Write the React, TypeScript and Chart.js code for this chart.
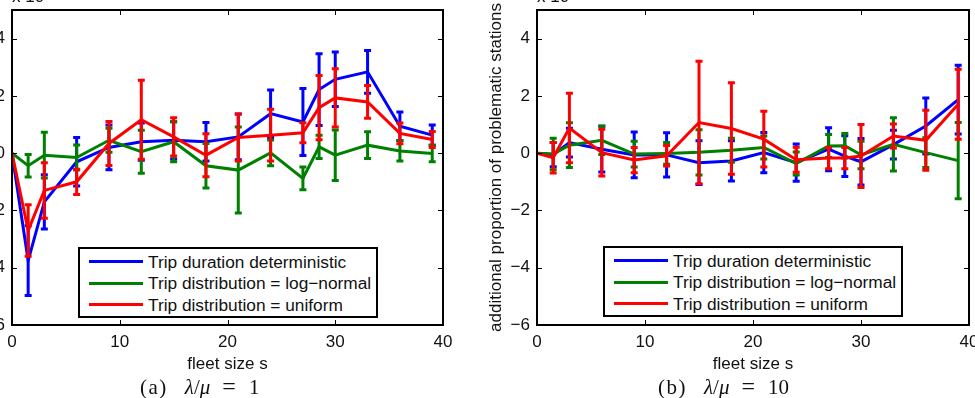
import React, { useEffect, useRef } from "react";
import { Chart, registerables } from "chart.js";

Chart.register(...registerables);

const SANS = "'Liberation Sans', Arial, Helvetica, sans-serif";
const SERIF = "'Liberation Serif', 'Times New Roman', serif";
const INK = "#111";

// Fleet sizes at which the simulations were run
const fleetSize = [0, 1.5, 3, 6, 9, 12, 15, 18, 21, 24, 27, 28.5, 30, 33, 36, 39];
const xTicks = [0, 10, 20, 30, 40];
const yTicks = [-6, -4, -2, 0, 2, 4];

// (a) lambda/mu = 1 — additional proportion (x 10^-3), mean and half-width of error bar
const detMeanA = [0, -3.75, -1.7, -0.3, 0.2, 0.4, 0.45, 0.4, 0.57, 1.38, 1.09, 2.22, 2.58, 2.84, 0.94, 0.63];
const detErrA = [0, 1.22, 0.95, 0.85, 0.78, 0.65, 0.65, 0.67, 0.8, 0.83, 1.17, 1.25, 0.95, 0.75, 0.5, 0.35];
const logMeanA = [0, -0.44, -0.07, -0.15, 0.45, 0.05, 0.4, -0.44, -0.59, 0.01, -0.88, 0.22, -0.07, 0.28, 0.08, -0.01];
const logErrA = [0, 0.39, 0.8, 0.44, 0.42, 0.75, 0.7, 0.78, 1.5, 0.45, 0.4, 0.41, 0.88, 0.47, 0.35, 0.29];
const uniMeanA = [0, -2.7, -1.3, -1.0, 0.34, 1.17, 0.57, -0.07, 0.55, 0.63, 0.71, 1.59, 1.93, 1.79, 0.69, 0.48];
const uniErrA = [0, 0.9, 0.97, 0.44, 0.77, 1.38, 0.67, 0.75, 0.82, 0.9, 0.35, 1.12, 1.02, 0.57, 0.36, 0.28];

// (b) lambda/mu = 10
const detMeanB = [0, -0.05, 0.37, 0.14, -0.06, -0.06, -0.33, -0.27, 0.02, -0.33, 0.14, -0.1, -0.3, 0.3, 0.95, 1.87];
const detErrB = [0, 0.42, 0.5, 0.8, 0.8, 0.77, 0.76, 0.7, 0.7, 0.65, 0.75, 0.71, 0.81, 0.5, 0.98, 1.2];
const logMeanB = [0, -0.03, 0.28, 0.45, -0.03, -0.01, 0.03, 0.1, 0.2, -0.36, 0.25, 0.26, -0.06, 0.31, 0.02, -0.26];
const logErrB = [0, 0.55, 0.78, 0.5, 0.45, 0.38, 0.79, 0.42, 0.4, 0.4, 0.4, 0.43, 0.48, 0.93, 0.52, 1.33];
const uniMeanB = [0, -0.16, 0.88, 0.02, -0.24, -0.09, 1.07, 0.86, 0.49, -0.23, -0.17, -0.17, -0.1, 0.6, 0.45, 1.71];
const uniErrB = [0, 0.53, 1.21, 0.82, 0.44, 0.36, 2.14, 1.6, 0.97, 0.44, 0.37, 0.37, 1.1, 0.42, 1.05, 1.22];

const seriesNames = [
  "Trip duration deterministic",
  "Trip distribution = log\u2212normal",
  "Trip distribution = uniform",
];
const seriesColors = ["#0000ff", "#008000", "#ff0000"];

const xTitle = "fleet size s";
const yTitle = "additional proportion of problematic stations";

const fmtTick = (v: number) => (v < 0 ? "\u2212" + Math.abs(v) : String(v));

// Vertical error bars with caps, drawn right after each dataset's line
const errorBarPlugin = {
  id: "errorBars",
  afterDatasetDraw(chart: any, args: any) {
    const ds = chart.data.datasets[args.index];
    const errs: number[] = ds.errors;
    if (!errs) return;
    const xs = chart.scales.x;
    const ys = chart.scales.y;
    const ctx = chart.ctx;
    ctx.save();
    ctx.strokeStyle = ds.borderColor;
    ctx.lineWidth = 3;
    ctx.lineCap = "butt";
    const cap = 3.5;
    ds.data.forEach((p: any, i: number) => {
      const e = errs[i];
      if (!e) return;
      const px = xs.getPixelForValue(p.x);
      const top = ys.getPixelForValue(p.y + e);
      const bot = ys.getPixelForValue(p.y - e);
      ctx.beginPath();
      ctx.moveTo(px, top);
      ctx.lineTo(px, bot);
      ctx.moveTo(px - cap, top);
      ctx.lineTo(px + cap, top);
      ctx.moveTo(px - cap, bot);
      ctx.lineTo(px + cap, bot);
      ctx.stroke();
    });
    ctx.restore();
  },
};

// Boxed axes with inward tick marks on all four sides
const boxPlugin = {
  id: "axesBox",
  afterDraw(chart: any) {
    const { ctx, chartArea: a } = chart;
    const xs = chart.scales.x;
    const ys = chart.scales.y;
    const len = 5;
    ctx.save();
    ctx.strokeStyle = "#000";
    ctx.lineWidth = 1;
    ctx.beginPath();
    xTicks.forEach((v) => {
      const px = Math.round(xs.getPixelForValue(v)) + 0.5;
      ctx.moveTo(px, a.bottom);
      ctx.lineTo(px, a.bottom - len);
      ctx.moveTo(px, a.top);
      ctx.lineTo(px, a.top + len);
    });
    yTicks.forEach((v) => {
      const py = Math.round(ys.getPixelForValue(v)) + 0.5;
      ctx.moveTo(a.left, py);
      ctx.lineTo(a.left + len, py);
      ctx.moveTo(a.right, py);
      ctx.lineTo(a.right - len, py);
    });
    ctx.stroke();
    ctx.lineWidth = 2;
    ctx.strokeRect(a.left, a.top, a.right - a.left, a.bottom - a.top);
    ctx.restore();
  },
};

type PanelProps = {
  canvasLeft: number;
  canvasWidth: number;
  areaLeft: number;
  padRight: number;
  means: number[][];
  errs: number[][];
};

function Panel({ canvasLeft, canvasWidth, areaLeft, padRight, means, errs }: PanelProps) {
  const ref = useRef<HTMLCanvasElement>(null);
  useEffect(() => {
    const chart = new Chart(ref.current as HTMLCanvasElement, {
      type: "line",
      data: {
        datasets: means.map((m, k) => ({
          label: seriesNames[k],
          data: fleetSize.map((x, i) => ({ x, y: m[i] })),
          errors: errs[k],
          borderColor: seriesColors[k],
          backgroundColor: seriesColors[k],
          borderWidth: 3,
          pointRadius: 0,
          tension: 0,
          order: 2 - k,
        })) as any,
      },
      options: {
        responsive: false,
        animation: false,
        events: [],
        layout: { padding: { left: 0, top: 10, right: padRight, bottom: 0 } },
        plugins: { legend: { display: false }, tooltip: { enabled: false } },
        scales: {
          x: {
            type: "linear",
            min: 0,
            max: 40,
            afterBuildTicks: (s: any) => {
              s.ticks = xTicks.map((v) => ({ value: v }));
            },
            afterFit: (s: any) => {
              s.height = 73;
              s.paddingLeft = 0;
              s.paddingRight = 0;
            },
            grid: { display: false, drawTicks: false },
            border: { display: false },
            ticks: {
              padding: 7,
              color: INK,
              font: { family: SANS, size: 17 },
              maxRotation: 0,
              autoSkip: false,
              callback: (v: any) => fmtTick(Number(v)),
            },
            title: {
              display: true,
              text: xTitle,
              color: INK,
              font: { family: SANS, size: 17 },
              padding: { top: 0, bottom: 23 },
            },
          },
          y: {
            type: "linear",
            min: -6,
            max: 5,
            afterBuildTicks: (s: any) => {
              s.ticks = yTicks.map((v) => ({ value: v }));
            },
            afterFit: (s: any) => {
              s.width = areaLeft;
              s.paddingTop = 0;
              s.paddingBottom = 0;
            },
            grid: { display: false, drawTicks: false },
            border: { display: false },
            ticks: {
              padding: 7,
              color: INK,
              font: { family: SANS, size: 17 },
              autoSkip: false,
              callback: (v: any) => fmtTick(Number(v)),
            },
            title: {
              display: true,
              text: yTitle,
              color: INK,
              font: { family: SANS, size: 17 },
              padding: { top: 16, bottom: 0 },
            },
          },
        },
      },
      plugins: [errorBarPlugin, boxPlugin],
    });
    return () => chart.destroy();
  }, []);
  return (
    <canvas
      ref={ref}
      width={canvasWidth}
      height={398}
      style={{ position: "absolute", left: canvasLeft, top: 0, width: canvasWidth, height: 398 }}
    />
  );
}

function Legend({ left, top }: { left: number; top: number }) {
  return (
    <div
      style={{
        position: "absolute",
        left,
        top,
        width: 300,
        height: 71,
        boxSizing: "border-box",
        border: "2px solid #000",
        background: "#fff",
      }}
    >
      {seriesNames.map((name, k) => (
        <React.Fragment key={name}>
          <div
            style={{
              position: "absolute",
              left: 9,
              top: 11 + k * 21.7,
              width: 54,
              height: 3,
              background: seriesColors[k],
            }}
          />
          <div
            style={{
              position: "absolute",
              left: 68,
              top: 2.5 + k * 21.7,
              font: `17.3px ${SANS}`,
              lineHeight: "20px",
              color: INK,
              whiteSpace: "nowrap",
            }}
          >
            {name}
          </div>
        </React.Fragment>
      ))}
    </div>
  );
}

function Exponent({ left }: { left: number }) {
  return (
    <div
      style={{
        position: "absolute",
        left,
        top: -13,
        font: `17px ${SANS}`,
        lineHeight: "20px",
        height: 20,
        color: INK,
        whiteSpace: "nowrap",
      }}
    >
      x 10
      <span style={{ position: "relative", top: -8, fontSize: 12 }}>{"\u22123"}</span>
    </div>
  );
}

function Caption({ left, tag, ratio }: { left: number; tag: string; ratio: string }) {
  return (
    <div
      style={{
        position: "absolute",
        left,
        top: 374,
        font: `21px ${SERIF}`,
        lineHeight: "24px",
        color: INK,
        whiteSpace: "nowrap",
      }}
    >
      <span style={{ letterSpacing: 1.5 }}>({tag})</span>
      <span style={{ marginLeft: 17 }}>
        <i>{"\u03bb"}</i>/<i>{"\u03bc"}</i>
      </span>
      <span style={{ marginLeft: 12, fontSize: 24 }}>=</span>
      <span style={{ marginLeft: 13 }}>{ratio}</span>
    </div>
  );
}

export default function App() {
  return (
    <div
      style={{
        position: "fixed",
        left: 0,
        top: 0,
        width: 975,
        height: 398,
        overflow: "hidden",
        background: "#fff",
      }}
    >
      <Panel
        canvasLeft={-70}
        canvasWidth={540}
        areaLeft={82}
        padRight={27}
        means={[detMeanA, logMeanA, uniMeanA]}
        errs={[detErrA, logErrA, uniErrA]}
      />
      <Panel
        canvasLeft={470}
        canvasWidth={530}
        areaLeft={67}
        padRight={31}
        means={[detMeanB, logMeanB, uniMeanB]}
        errs={[detErrB, logErrB, uniErrB]}
      />
      <Legend left={78} top={247} />
      <Legend left={603} top={246} />
      <Exponent left={12} />
      <Exponent left={537} />
      <Caption left={140} tag="a" ratio="1" />
      <Caption left={658} tag="b" ratio="10" />
    </div>
  );
}
